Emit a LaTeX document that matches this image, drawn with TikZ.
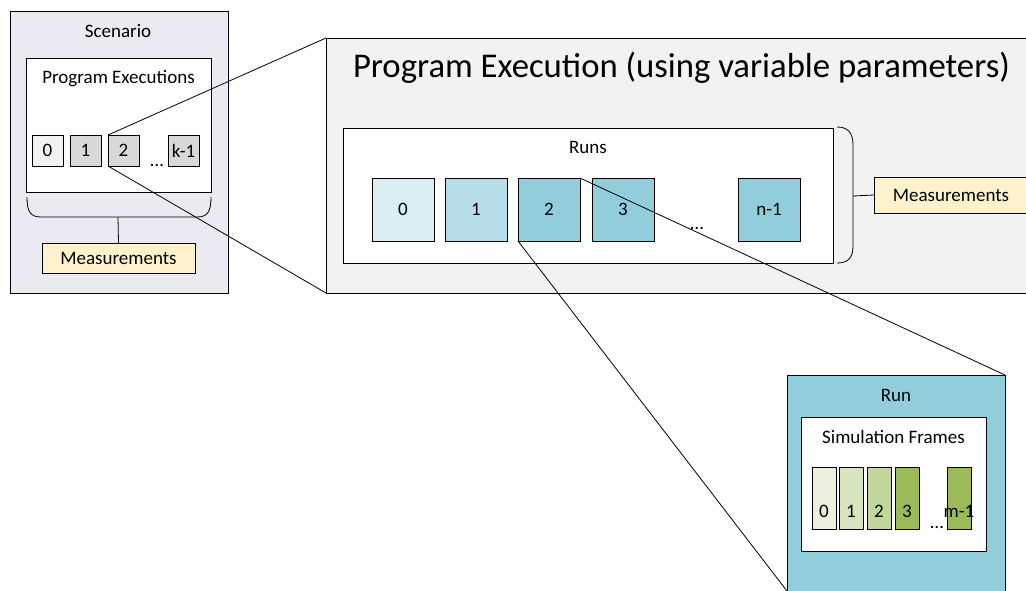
\documentclass[tikz,border=0pt]{standalone}
\usepackage{fontspec}
\setmainfont{Carlito}
\definecolor{scenfill}{HTML}{ECEAF1}
\definecolor{pefill}{HTML}{F2F2F2}
\definecolor{measfill}{HTML}{FFF2CC}
\definecolor{greyA}{HTML}{F2F2F2}
\definecolor{greyB}{HTML}{D9D9D9}
\definecolor{aquaA}{HTML}{DAEEF3}
\definecolor{aquaB}{HTML}{B7DEE8}
\definecolor{aquaC}{HTML}{92CDDC}
\definecolor{greenA}{HTML}{EBF1DE}
\definecolor{greenB}{HTML}{D7E4BD}
\definecolor{greenC}{HTML}{C3D69B}
\definecolor{greenD}{HTML}{9BBB59}
\begin{document}
\begin{tikzpicture}[x=1pt,y=-1pt,
  box/.style={draw=black, line width=0.8pt, inner sep=0pt, outer sep=0pt,
    anchor=north west, font=\fontsize{19pt}{22pt}\selectfont},
  lbl/.style={inner sep=0pt, outer sep=0pt, font=\fontsize{19pt}{22pt}\selectfont},
  bracepath/.style={draw=black, line width=0.8pt},
  conn/.style={draw=black, line width=0.8pt},
  sq/.style={box, minimum width=31pt, minimum height=31pt},
  runbox/.style={box, minimum width=62pt, minimum height=63pt},
  frame/.style={box, minimum width=24pt, minimum height=62pt}]
\clip (0,0) rectangle (1026,590);
\fill[white] (0,0) rectangle (1026,590);

% ---------- Scenario ----------
\node[box, fill=scenfill, minimum width=218pt, minimum height=282pt] (scen) at (10,11) {};
\node[lbl, anchor=base] (tscen) at (118,37) {Scenario};
\node[box, fill=white, minimum width=185pt, minimum height=134pt] (pex) at (26,58) {};
\node[lbl, anchor=base] (tpex) at (118.5,83) {Program Executions};
\node[sq, fill=greyA] (s0) at (32,135) {0};
\node[sq, fill=greyB] (s1) at (70,135) {1};
\node[sq, fill=greyB] (s2) at (108,135) {2};
\node[sq, fill=greyB] (sk) at (168,135) {k-1};
\node[lbl, anchor=base] (sdots) at (157,166) {…};
\draw[bracepath] (27,197) .. controls (27,211) and (30,217) .. (41,217)
  -- (197,217) .. controls (208,217) and (211,211) .. (211,197);
\coordinate (bl) at (118,217);
\node[box, fill=measfill, minimum width=153pt, minimum height=30pt] (mL) at (42,243) {Measurements};
\draw[bracepath] (bl) -- (mL.north);

% ---------- Program Execution ----------
\node[box, fill=pefill, minimum width=720pt, minimum height=255pt] (pe) at (326,38) {};
\node[lbl, anchor=base west, font=\fontsize{34.7pt}{40pt}\selectfont] (tpe) at (353,77)
  {Program Execution (using variable parameters)};
\node[box, fill=white, minimum width=490pt, minimum height=135pt] (runs) at (343,128) {};
\node[lbl, anchor=base] (truns) at (588,153) {Runs};
\node[runbox, fill=aquaA] (r0) at (372,178) {0};
\node[runbox, fill=aquaB] (r1) at (445,178) {1};
\node[runbox, fill=aquaC] (r2) at (518,178) {2};
\node[runbox, fill=aquaC] (r3) at (592,178) {3};
\node[runbox, fill=aquaC] (rn) at (738,178) {n-1};
\node[lbl, anchor=base] (rdots) at (697,229) {…};
\draw[bracepath] (837,127) .. controls (848,127) and (853,133) .. (853,145)
  -- (853,246) .. controls (853,258) and (848,263) .. (837,263);
\coordinate (br) at (853,196);
\node[box, fill=measfill, minimum width=154pt, minimum height=36pt] (mR) at (874,177) {Measurements};
\draw[bracepath] (br) -- (mR.west);

% ---------- Run ----------
\node[box, fill=aquaC, minimum width=218pt, minimum height=216pt] (run) at (787,375) {};
\node[lbl, anchor=base] (trun) at (896,401) {Run};
\node[box, fill=white, minimum width=185pt, minimum height=134pt] (sf) at (801,417) {};
\node[lbl, anchor=base] (tsf) at (893.5,443) {Simulation Frames};
\node[frame, fill=greenA] (f0) at (812,467) {};
\node[frame, fill=greenB] (f1) at (839,467) {};
\node[frame, fill=greenC] (f2) at (867,467) {};
\node[frame, fill=greenD] (f3) at (895,467) {};
\node[frame, fill=greenD] (fm) at (947,467) {};
\node[lbl, anchor=base] (l0) at ([yshift=12pt]f0.south) {0};
\node[lbl, anchor=base] (l1) at ([yshift=12pt]f1.south) {1};
\node[lbl, anchor=base] (l2) at ([yshift=12pt]f2.south) {2};
\node[lbl, anchor=base] (l3) at ([yshift=12pt]f3.south) {3};
\node[lbl, anchor=base] (lm) at ([yshift=12pt]fm.south) {m-1};
\node[lbl, anchor=base] (fdots) at (937,528) {…};

% ---------- zoom connectors ----------
\draw[conn] (s2.north west) -- (pe.north west);
\draw[conn] (s2.south west) -- (pe.south west);
\draw[conn] (r2.north east) -- (run.north east);
\draw[conn] (r2.south west) -- (run.south west);
\end{tikzpicture}
\end{document}
